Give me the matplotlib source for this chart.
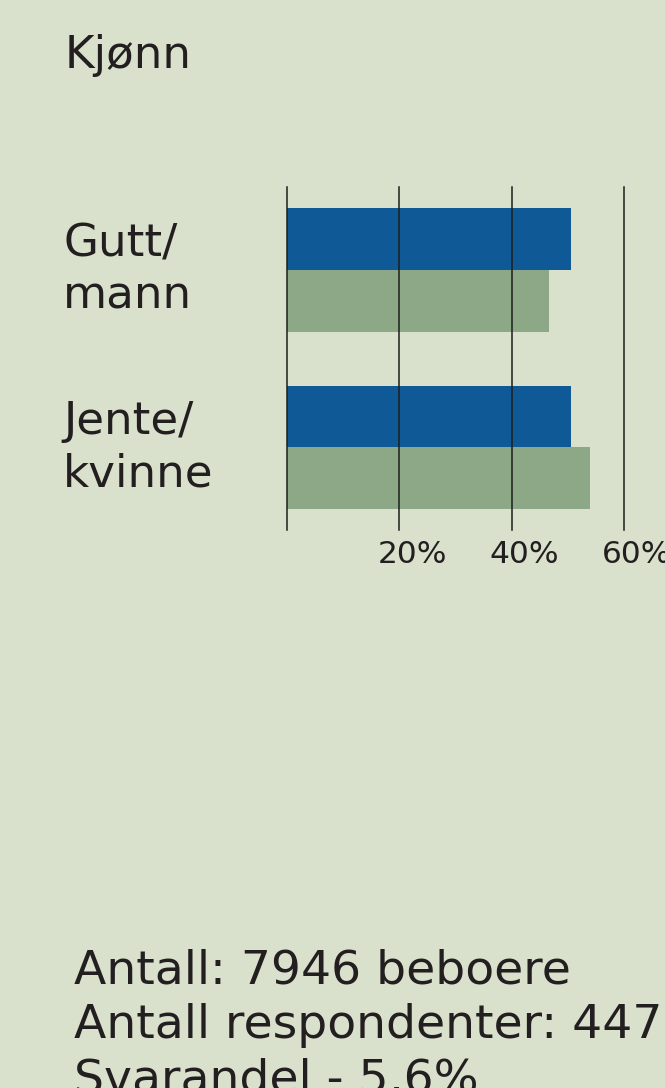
import matplotlib.pyplot as plt
from matplotlib.transforms import ScaledTranslation


# ==== DATA ==================================================

title = "Kjønn"
categories = ["Gutt/\nmann", "Jente/\nkvinne"]
population = [50.6, 50.6]     # blue, share of residents (%)
respondents = [46.6, 54.0]    # green, share of respondents (%)
ticks = [0, 20, 40, 60, 80]
tick_labels = ["", "20%", "40%", "60%", "80%"]
info_lines = [
    "Antall: 7946 beboere",
    "Antall respondenter: 447",
    "Svarandel - 5,6%",
]

# ==== STYLE =================================================

W, H = 665, 1088
bg = "#d9e0cc"
blue = "#0f5a96"
green = "#8da886"
ink = "#231f20"

# ============================================================

fig = plt.figure(figsize=(W / 100, H / 100), dpi=100)
fig.patch.set_facecolor(bg)


def fx(px):
    return px / W


def fy(py):
    return 1 - py / H


# axes: x=0 at 287px, 5.615 px per percent; y spans 187..530 px
x0, ppp = 287, 5.615
ax = fig.add_axes([fx(x0), fy(530), fx(100 * ppp), (530 - 187) / H])
ax.set_facecolor(bg)
ax.set_xlim(0, 100)
ax.set_ylim(1.465, -0.468)

h = 0.349
ypos = list(range(len(categories)))
ax.barh([y + h / 2 for y in ypos], respondents, height=h, color=green, zorder=1)
ax.barh([y - h / 2 for y in ypos], population, height=h, color=blue, zorder=2)

for t in ticks:
    ax.axvline(t, color="#1e1e1e", lw=1.1, zorder=3, clip_on=False)

for s in ax.spines.values():
    s.set_visible(False)
ax.set_yticks([])
ax.set_xticks(ticks, tick_labels, fontsize=22.5, color=ink)
ax.tick_params(axis="x", length=0, pad=7.5)
shift = ScaledTranslation(13 / 100, 0, fig.dpi_scale_trans)
for lab in ax.get_xticklabels():
    lab.set_transform(lab.get_transform() + shift)

# title
fig.text(fx(65), fy(68), title, fontsize=32.5, color=ink, va="baseline", ha="left")

# category labels, centred on each bar pair
for y, cat in zip(ypos, categories):
    yp = ax.transData.transform((0, y))[1] / H
    fig.text(fx(63), yp, cat, fontsize=32.5, color=ink, va="center", ha="left",
             linespacing=1.28)

# footer
for i, line in enumerate(info_lines):
    fig.text(fx(74), fy(983 + 55 * i), line, fontsize=34, color=ink,
             va="baseline", ha="left")

fig.savefig("out.png", dpi=100, facecolor=bg)
